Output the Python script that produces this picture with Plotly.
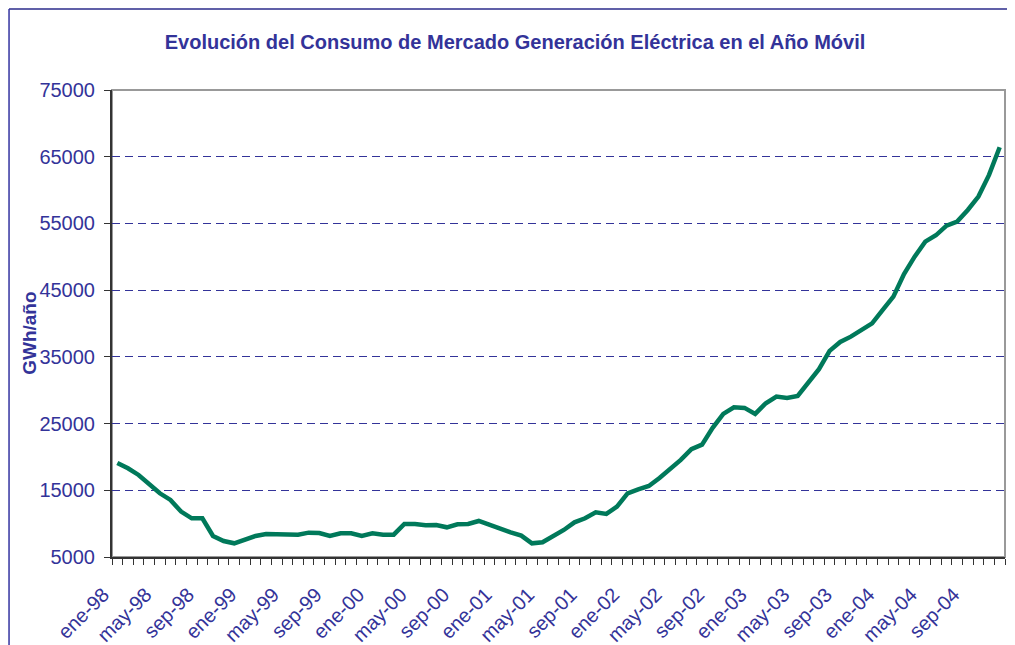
import plotly.graph_objects as go

months = ["ene", "feb", "mar", "abr", "may", "jun", "jul", "ago", "sep", "oct", "nov", "dic"]
years = ["98", "99", "00", "01", "02", "03", "04"]
categories = [f"{m}-{y}" for y in years for m in months]

consumo = [
    19100, 18300, 17300, 15950, 14550, 13550, 11800, 10800, 10800, 8150, 7400, 7050,
    7550, 8150, 8450, 8400, 8350, 8350, 8650, 8600, 8150, 8550, 8550, 8150,
    8550, 8350, 8350, 9950, 9950, 9750, 9800, 9450, 9900, 9950, 10400, 9800,
    9200, 8700, 8200, 7050, 7200, 8050, 9050, 10200, 10800, 11700, 11450, 12550,
    14550, 15150, 15650, 16850, 18200, 19550, 21150, 21850, 24350, 26450, 27450, 27350,
    26450, 28050, 29050, 28850, 29150, 31200, 33150, 35900, 37230, 38030, 39130, 40030,
    42030, 44030, 47420, 50020, 52270, 53220, 54670, 55270, 57020, 59020, 62270, 66420,
]

label_step = 4
tick_idx = list(range(0, len(categories), label_step))
tick_text = [categories[i] for i in tick_idx]
y_ticks = [5000, 15000, 25000, 35000, 45000, 55000, 65000, 75000]
y_tick_text = [str(v) for v in y_ticks]

TXT = "#333399"
FONT = "Liberation Sans, Arial, sans-serif"

fig = go.Figure()
fig.add_trace(go.Scatter(
    x=list(range(len(categories))), y=consumo, mode="lines",
    line=dict(color="#00795A", width=4.5),
    hovertext=categories, hoverinfo="text+y",
))

fig.update_layout(
    width=1015, height=645,
    margin=dict(l=104, r=18, t=82, b=96, autoexpand=False),
    paper_bgcolor="white", plot_bgcolor="white",
    showlegend=False,
    font=dict(family=FONT, color=TXT),
    title=dict(text="<b>Evolución del Consumo de Mercado Generación Eléctrica en el Año Móvil</b>",
               x=0.4995, xanchor="center", xref="container",
               y=0.948, yanchor="middle", yref="container", automargin=False,
               font=dict(size=20, color=TXT, family=FONT)),
)

fig.update_xaxes(
    automargin=False,
    range=[-0.5, len(categories) - 0.5],
    tickmode="array", tickvals=tick_idx, ticktext=tick_text,
    tickangle=-45, ticks="", ticklabelstandoff=16, ticklabelshift=-14,
    tickfont=dict(size=20, color=TXT, family=FONT),
    showgrid=False, zeroline=False,
    showline=True, linecolor="#333333", linewidth=2,
    minor=dict(ticks="outside", tick0=-0.5, dtick=1, ticklen=6, tickcolor="#333333", tickwidth=1, showgrid=False),
)
fig.update_yaxes(
    automargin=False,
    range=[5000, 75000], tickmode="array", tickvals=y_ticks, ticktext=y_tick_text,
    ticks="outside", ticklen=6, tickcolor="#333333", ticklabelstandoff=5,
    tickfont=dict(size=20, color=TXT, family=FONT),
    showgrid=True, gridcolor="#333399", gridwidth=1, griddash="8px,5px",
    zeroline=False, showline=True, linecolor="#333333", linewidth=2,
)

# plot area frame (gray) drawn below axis lines
fig.add_shape(type="rect", xref="paper", yref="paper", x0=0, x1=1, y0=0, y1=1,
              line=dict(color="#999999", width=2), layer="below")
# outer chart border (top and left edges visible)
fig.add_shape(type="line", xref="paper", yref="paper", x0=-0.1153, x1=1.05, y0=1.1734, y1=1.1734,
              line=dict(color="#6060A8", width=2))
fig.add_shape(type="line", xref="paper", yref="paper", x0=-0.1153, x1=-0.1153, y0=-0.3, y1=1.1734,
              line=dict(color="#3333A0", width=1.5))

fig.add_annotation(text="<b>GWh/año</b>", xref="paper", yref="paper",
                   x=-0.0918, y=0.478, textangle=-90, showarrow=False,
                   xanchor="center", yanchor="middle",
                   font=dict(size=19, color=TXT, family=FONT))

fig.write_html("out.html")
